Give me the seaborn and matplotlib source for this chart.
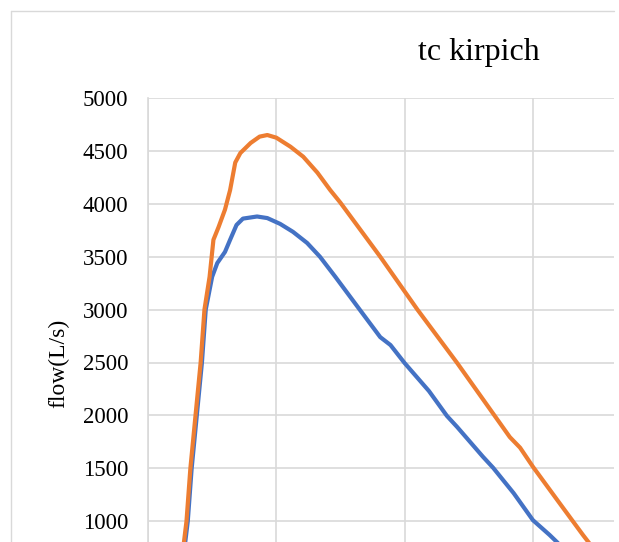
import pandas as pd
import matplotlib.pyplot as plt
import seaborn as sns
from matplotlib.lines import Line2D

sns.set_style("white")
plt.rcParams['font.family'] = ['Liberation Serif', 'DejaVu Serif']
plt.rcParams['text.color'] = 'black'

# 데이터 (그림에서 읽은 값, x 는 격자 1칸 = 1 단위)
time_blue = [0.19, 0.25, 0.29, 0.31, 0.34, 0.38, 0.42, 0.45, 0.50, 0.54, 0.60, 0.64,
             0.69, 0.74, 0.85, 0.93, 1.03, 1.13, 1.24, 1.34, 1.46, 1.65, 1.81, 1.89,
             2.00, 2.19, 2.33, 2.41, 2.61, 2.69, 2.85, 3.00, 3.13, 3.33]
flow_blue = [0, 350, 800, 1000, 1495, 1995, 2495, 3000, 3310, 3440, 3545, 3660,
             3800, 3860, 3880, 3865, 3810, 3735, 3630, 3500, 3310, 3000, 2740, 2665,
             2495, 2230, 1995, 1890, 1610, 1505, 1265, 1010, 870, 635]

time_orange = [0.19, 0.25, 0.28, 0.30, 0.33, 0.37, 0.41, 0.44, 0.48, 0.51, 0.55, 0.60,
               0.64, 0.68, 0.72, 0.80, 0.87, 0.93, 1.00, 1.11, 1.21, 1.32, 1.42, 1.50,
               1.81, 2.10, 2.41, 2.70, 2.82, 2.90, 3.00, 3.19, 3.39, 3.60]
flow_orange = [0, 350, 800, 1000, 1495, 1995, 2495, 3000, 3310, 3660, 3780, 3945,
               4130, 4390, 4480, 4575, 4635, 4650, 4625, 4540, 4445, 4295, 4130, 4010,
               3500, 3000, 2495, 2000, 1795, 1695, 1515, 1200, 870, 540]

df = pd.concat([
    pd.DataFrame({'time': time_blue, 'flow': flow_blue, 'series': 'Q1'}),
    pd.DataFrame({'time': time_orange, 'flow': flow_orange, 'series': 'Q2'}),
])

W, H = 619, 542
fig = plt.figure(figsize=(W / 100, H / 100), dpi=100)

# 플롯 영역 (아래쪽은 그림 밖으로 잘림)
left, right, top, y0 = 148, 614, 98, 627
ax = fig.add_axes([left / W, 1 - y0 / H, (right - left) / W, (y0 - top) / H])

sns.lineplot(data=df, x='time', y='flow', hue='series', estimator=None, sort=False,
             palette=['#4472C4', '#ED7D31'], linewidth=3.0, legend=False, ax=ax,
             solid_joinstyle='round', solid_capstyle='round')

ax.set_xlim(0, (right - left) / 128.3)
ax.set_ylim(0, 5000)
ax.set_xticks([0, 1, 2, 3])
ax.set_yticks(range(1000, 5001, 500))
ax.grid(True, color='#d9d9d9', linewidth=1.2)
ax.set_axisbelow(True)
for s in ['top', 'right', 'bottom']:
    ax.spines[s].set_visible(False)
ax.spines['left'].set_color('#d9d9d9')
ax.spines['left'].set_linewidth(1.2)
ax.tick_params(axis='y', length=0, pad=14, labelsize=16.5, labelcolor='black')
ax.tick_params(axis='x', length=0, labelbottom=False)
ax.set_xlabel('')
ax.set_ylabel('')

# 제목 및 레이블
fig.text(479 / W, 1 - 60 / H, 'tc kirpich', fontsize=23, ha='center', va='baseline')
fig.text(59 / W, 1 - 363 / H, 'flow(L/s)', fontsize=17, rotation=90, ha='center', va='center')

# 차트 테두리
fig.add_artist(Line2D([11 / W, 614 / W], [1 - 11 / H, 1 - 11 / H], color='#d9d9d9', lw=1.0))
fig.add_artist(Line2D([11 / W, 11 / W], [1 - 11 / H, 0], color='#d9d9d9', lw=1.0))

fig.savefig('out.png', dpi=100)
